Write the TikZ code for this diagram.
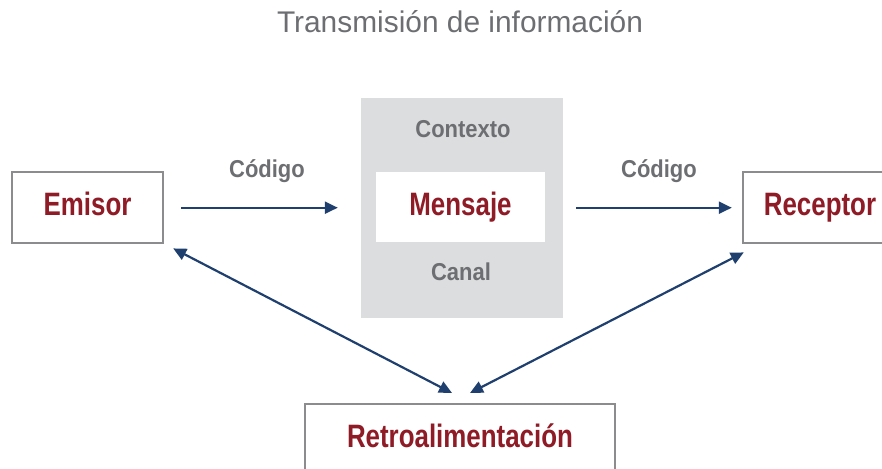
\documentclass[tikz,border=0pt]{standalone}
\usepackage{fontspec}
\setmainfont{Liberation Sans}
\newfontfamily\condfont[FakeStretch=0.8]{Liberation Sans}
\newfontfamily\tagfont[FakeStretch=0.9]{Liberation Sans}
\usetikzlibrary{arrows.meta}
\definecolor{boxred}{HTML}{8E1B26}
\definecolor{labelgray}{HTML}{6D6E71}
\definecolor{framegray}{HTML}{8C8C8E}
\definecolor{panelgray}{HTML}{DCDDDF}
\definecolor{arrowblue}{HTML}{1F3F6E}
\begin{document}
\begin{tikzpicture}[x=1bp,y=-1bp,
    box/.style={draw=framegray, line width=2.4bp, fill=white, inner sep=0pt,
      text height=43bp, text depth=28bp, anchor=north,
      font=\condfont\bfseries\fontsize{32.5}{32.5}\selectfont, text=boxred},
    tag/.style={anchor=base, font=\tagfont\bfseries\fontsize{24.5}{24.5}\selectfont, text=labelgray},
    flow/.style={draw=arrowblue, line width=2.2bp, -{Triangle[length=13bp,width=12bp]}},
    both/.style={flow, {Triangle[length=13bp,width=12bp]}-{Triangle[length=13bp,width=12bp]}}]
    \useasboundingbox (0,0) rectangle (882,469);
    % title
    \node[anchor=base, font=\fontsize{30}{30}\selectfont, text=labelgray] (title) at (460,33) {Transmisión de información};
    % the three boxes
    \node[box, minimum width=151bp] (emisor) at (87.5,171) {Emisor};
    \node[box, minimum width=154bp] (receptor) at (820,171) {Receptor};
    \node[box, minimum width=310bp] (retro) at (460,403) {Retroalimentación};
    % message panel
    \node[fill=panelgray, minimum width=202bp, minimum height=220bp, inner sep=0pt] (panel) at (462,208) {};
    \node[box, draw=none, minimum width=169bp, text depth=27bp] (mensaje) at (460.5,171) {Mensaje};
    \node[tag] (contexto) at (463,138) {Contexto};
    \node[tag] (canal) at (461,281) {Canal};
    % codes
    \node[tag] (codigo1) at (267,178) {Código};
    \node[tag] (codigo2) at (659,178) {Código};
    % arrows
    \draw[flow, shorten <=17bp, shorten >=23bp] (emisor.east) -- (emisor.east -| panel.west);
    \draw[flow, shorten <=13bp, shorten >=10bp] (receptor.west -| panel.east) -- (receptor.west);
    \draw[both] ([shift={(9,4)}]emisor.south east) -- ([shift={(-8,-10)}]retro.north);
    \draw[both] ([shift={(2,8)}]receptor.south west) -- ([shift={(10,-10)}]retro.north);
\end{tikzpicture}
\end{document}
